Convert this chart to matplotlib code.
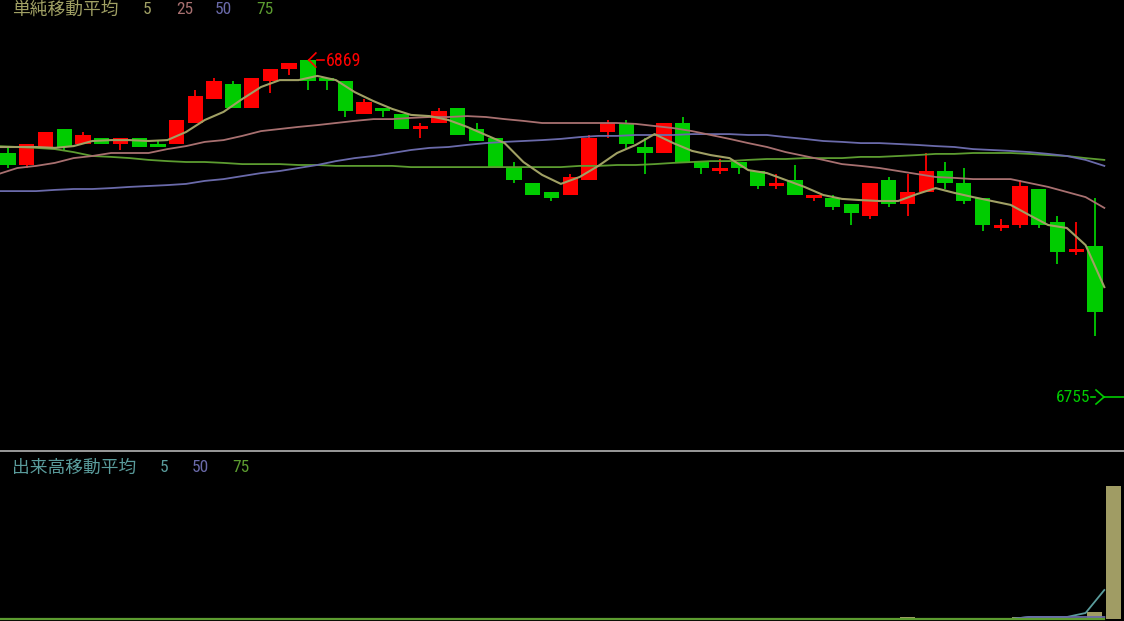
import numpy as np
import matplotlib
matplotlib.use("Agg")
import matplotlib.pyplot as plt
import matplotlib.transforms as mtransforms
from matplotlib.lines import Line2D
from matplotlib import font_manager

# daily candles (prices in yen)
opens = [6838, 6834, 6840, 6846, 6841, 6843, 6841, 6843, 6841, 6841,
         6848, 6856, 6861, 6853, 6862, 6866, 6869, 6863, 6862, 6851,
         6853, 6851, 6846, 6848, 6853, 6846, 6843, 6833, 6828, 6825,
         6824, 6829, 6845, 6848, 6840, 6838, 6848, 6835, 6832, 6835,
         6832, 6827, 6829, 6823, 6823, 6821, 6817, 6829, 6821, 6825,
         6832, 6828, 6823, 6813, 6814, 6826, 6815, 6805, 6807]
highs = [6840, 6841, 6845, 6846, 6845, 6843, 6843, 6843, 6842, 6849,
         6859, 6863, 6862, 6863, 6866, 6868, 6869, 6863, 6862, 6856,
         6853, 6851, 6848, 6853, 6853, 6848, 6843, 6835, 6828, 6825,
         6831, 6844, 6849, 6849, 6843, 6848, 6850, 6835, 6836, 6835,
         6832, 6831, 6834, 6824, 6824, 6821, 6828, 6830, 6831, 6838,
         6835, 6833, 6823, 6816, 6829, 6826, 6817, 6815, 6823]
lows = [6833, 6833, 6840, 6839, 6841, 6841, 6839, 6840, 6840, 6841,
        6848, 6856, 6853, 6853, 6858, 6864, 6859, 6859, 6850, 6851,
        6850, 6846, 6843, 6848, 6844, 6842, 6833, 6828, 6824, 6822,
        6824, 6829, 6843, 6839, 6831, 6838, 6835, 6831, 6831, 6831,
        6826, 6826, 6824, 6822, 6819, 6814, 6816, 6820, 6817, 6825,
        6826, 6821, 6812, 6812, 6813, 6813, 6801, 6804, 6777]
closes = [6834, 6841, 6845, 6840, 6844, 6841, 6843, 6840, 6840, 6849,
          6857, 6862, 6853, 6863, 6866, 6868, 6862, 6862, 6852, 6855,
          6852, 6846, 6847, 6852, 6844, 6842, 6833, 6829, 6824, 6823,
          6830, 6843, 6848, 6841, 6838, 6848, 6835, 6833, 6833, 6833,
          6827, 6828, 6824, 6824, 6820, 6818, 6828, 6821, 6825, 6832,
          6828, 6822, 6814, 6814, 6827, 6814, 6805, 6806, 6785]

# simple moving averages as drawn (first point sits just off the left edge)
ma5 = [6840.0,
       6840.0, 6840.0, 6839.7, 6840.3, 6842.0, 6842.3, 6842.3, 6842.0, 6842.3, 6845.0,
       6849.0, 6851.7, 6856.0, 6860.0, 6862.3, 6862.3, 6863.7, 6862.3, 6858.3, 6855.3,
       6852.7, 6850.7, 6850.3, 6849.0, 6846.7, 6844.0, 6841.3, 6835.0, 6830.7, 6827.7,
       6830.0, 6833.7, 6838.0, 6840.7, 6844.3, 6841.3, 6838.7, 6837.3, 6836.3, 6832.3,
       6831.3, 6829.0, 6826.7, 6824.0, 6822.7, 6822.3, 6822.0, 6822.0, 6824.3, 6826.3,
       6824.7, 6823.3, 6822.0, 6820.7, 6817.3, 6814.0, 6813.0, 6807.3, 6793.3]
ma25 = [6831.0,
        6833.0, 6833.7, 6834.7, 6836.3, 6837.0, 6838.0, 6838.0, 6838.0, 6839.3, 6840.3,
        6841.7, 6842.3, 6843.7, 6845.3, 6846.0, 6846.7, 6847.3, 6848.0, 6848.7, 6849.3,
        6849.3, 6849.7, 6850.0, 6850.0, 6850.3, 6850.0, 6849.3, 6848.7, 6848.0, 6848.0,
        6848.0, 6848.0, 6848.0, 6847.7, 6847.0, 6846.3, 6845.3, 6844.0, 6842.7, 6841.3,
        6840.0, 6838.3, 6837.0, 6835.7, 6834.3, 6833.7, 6833.0, 6832.0, 6831.0, 6830.0,
        6829.7, 6829.3, 6829.3, 6829.3, 6828.0, 6826.7, 6825.0, 6823.3, 6819.7]
ma50 = [6825.3,
        6825.3, 6825.3, 6825.7, 6826.0, 6826.0, 6826.3, 6826.7, 6827.0, 6827.3, 6827.7,
        6828.7, 6829.3, 6830.3, 6831.3, 6832.0, 6833.0, 6834.0, 6835.3, 6836.3, 6837.0,
        6838.0, 6839.0, 6839.7, 6840.0, 6840.7, 6841.3, 6841.7, 6842.0, 6842.3, 6842.7,
        6843.3, 6843.7, 6843.7, 6844.0, 6844.0, 6844.0, 6844.3, 6844.3, 6844.3, 6844.0,
        6844.0, 6843.3, 6842.7, 6842.0, 6841.7, 6841.3, 6841.3, 6841.0, 6840.7, 6840.3,
        6840.0, 6839.3, 6839.0, 6838.7, 6838.3, 6837.7, 6837.0, 6835.7, 6833.7]
ma75 = [6840.3,
        6840.0, 6839.7, 6839.3, 6838.3, 6837.0, 6836.7, 6836.3, 6835.7, 6835.3, 6835.0,
        6835.0, 6834.7, 6834.3, 6834.3, 6834.3, 6834.0, 6834.0, 6833.7, 6833.7, 6833.7,
        6833.7, 6833.3, 6833.3, 6833.3, 6833.3, 6833.3, 6833.3, 6833.3, 6833.3, 6833.3,
        6833.7, 6833.7, 6834.0, 6834.0, 6834.3, 6834.7, 6835.0, 6835.3, 6835.3, 6835.7,
        6836.0, 6836.0, 6836.3, 6836.3, 6836.3, 6836.7, 6836.7, 6837.0, 6837.3, 6837.7,
        6837.7, 6838.0, 6838.0, 6838.0, 6837.7, 6837.3, 6837.0, 6836.3, 6835.7]

high_idx = 16
high_price = 6869
last_price = 6755

# volume (last slot has no candle drawn)
volume = [0, 0, 0, 0, 0, 0, 0, 0, 0, 0,
          0, 0, 0, 0, 0, 0, 0, 0, 0, 0,
          0, 0, 0, 0, 0, 0, 0, 0, 0, 0,
          0, 0, 0, 0, 0, 0, 0, 0, 0, 0,
          0, 0, 0, 0, 0, 0, 0, 0, 100, 0,
          0, 0, 0, 0, 100, 0, 0, 0, 330, 6650]
vol_ma5 = [0] * 55 + [100, 100, 100, 300, 1450]
vol_ma50 = [0] * 55 + [100, 100, 100, 100, 100]
vol_ma75 = [0] * 60

RED = "#ff0000"
GREEN = "#00cc00"
C_MA5 = "#a0a064"
C_MA25 = "#a87070"
C_MA50 = "#6a6aaa"
C_MA75 = "#5c9c30"
C_VMA5 = "#5a9c9c"
CJK = ["Noto Sans CJK JP", "DejaVu Sans"]

# narrow digits if a condensed face is around
installed = {f.name for f in font_manager.fontManager.ttflist}
NUM = [n for n in ["Liberation Sans Narrow", "DejaVu Sans Condensed", "Roboto Condensed"]
       if n in installed] + ["Liberation Sans"]
narrow = NUM[0] != "Liberation Sans"
DS = 12.5 if narrow else 11.5

fig = plt.figure(figsize=(11.24, 6.21), dpi=100, facecolor="black")
ax = fig.add_axes([0, 171 / 621, 1, 450 / 621])
axv = fig.add_axes([0, 0, 1, 169 / 621])
for a in (ax, axv):
    a.set_axis_off()
    a.set_xlim(-0.427, 59.55)

# candles
x = np.arange(len(opens))
o = np.array(opens)
c = np.array(closes)
cols = np.where(c >= o, RED, GREEN)
ax.vlines(x, lows, highs, colors=cols, lw=1.3, zorder=2)
body = np.maximum(np.abs(c - o), 0.6)
ax.bar(x, body, bottom=np.minimum(o, c), width=0.82, color=cols, zorder=3)

xm = np.arange(len(ma5)) - 0.5
ax.plot(xm, ma75, color=C_MA75, lw=1.3, zorder=4)
ax.plot(xm, ma50, color=C_MA50, lw=1.3, zorder=4)
ax.plot(xm, ma25, color=C_MA25, lw=1.3, zorder=4)
ax.plot(xm, ma5, color=C_MA5, lw=1.5, zorder=5)
ax.set_ylim(6739, 6889)

# high marker: chevron pointing at the high, then the value
hx_px, hy_px = ax.transData.transform((high_idx, high_price))
for (x0, y0), (x1, y1) in [((8, 7), (1, 0)), ((1, 0), (8, -7)), ((9, 0), (16, 0))]:
    fig.add_artist(Line2D([hx_px + x0, hx_px + x1], [hy_px + y0, hy_px + y1],
                          color=RED, lw=1.2, transform=None))
fig.text((hx_px + 18) / 1124, (hy_px - 1) / 621, str(high_price), color=RED,
         fontsize=DS + 0.5, family=NUM, va="center", ha="left")

# last price marker on the right edge
bt = mtransforms.blended_transform_factory(ax.transAxes, ax.transData)
lx_px, ly_px = bt.transform((1.0, last_price))
ly_px += 5
for (x0, y0), (x1, y1) in [((-33, 0), (-29, 0)), ((-28, 7), (-20, 0)),
                           ((-20, 0), (-28, -7)), ((-20, 0), (0, 0))]:
    fig.add_artist(Line2D([lx_px + x0, lx_px + x1], [ly_px + y0, ly_px + y1],
                          color=GREEN, lw=1.2, transform=None))
fig.text((lx_px - 34) / 1124, ly_px / 621, str(last_price), color=GREEN,
         fontsize=DS, family=NUM, va="center", ha="right")

# volume panel
xv = np.arange(len(volume))
axv.bar(xv, volume, width=0.8, color="#a09c64", zorder=2)
axv.plot(xm, vol_ma5, color=C_VMA5, lw=1.3, zorder=3)
axv.plot(xm, vol_ma50, color=C_MA50, lw=1.3, zorder=3)
axv.plot(xm, vol_ma75, color=C_MA75, lw=1.6, zorder=4)
axv.set_ylim(-100, 8350)

# separator
fig.add_artist(Line2D([0, 1], [1 - 451 / 621] * 2, color="#b4b4b4", lw=1.2))

# legends
ty = 1 - 9.5 / 621
fig.text(12 / 1124, ty, "単純移動平均", color=C_MA5, fontsize=12.8, family=CJK, va="center")
for xpos, lab, col in [(143, "5", C_MA5), (176, "25", C_MA25), (215, "50", C_MA50), (256, "75", C_MA75)]:
    fig.text(xpos / 1124, ty, lab, color=col, fontsize=DS, family=NUM, va="center")
by = 1 - 467.5 / 621
fig.text(12 / 1124, by, "出来高移動平均", color=C_VMA5, fontsize=12.8, family=CJK, va="center")
for xpos, lab, col in [(160, "5", C_VMA5), (192, "50", C_MA50), (232, "75", C_MA75)]:
    fig.text(xpos / 1124, by, lab, color=col, fontsize=DS, family=NUM, va="center")

fig.savefig("out.png", dpi=100, facecolor="black")
